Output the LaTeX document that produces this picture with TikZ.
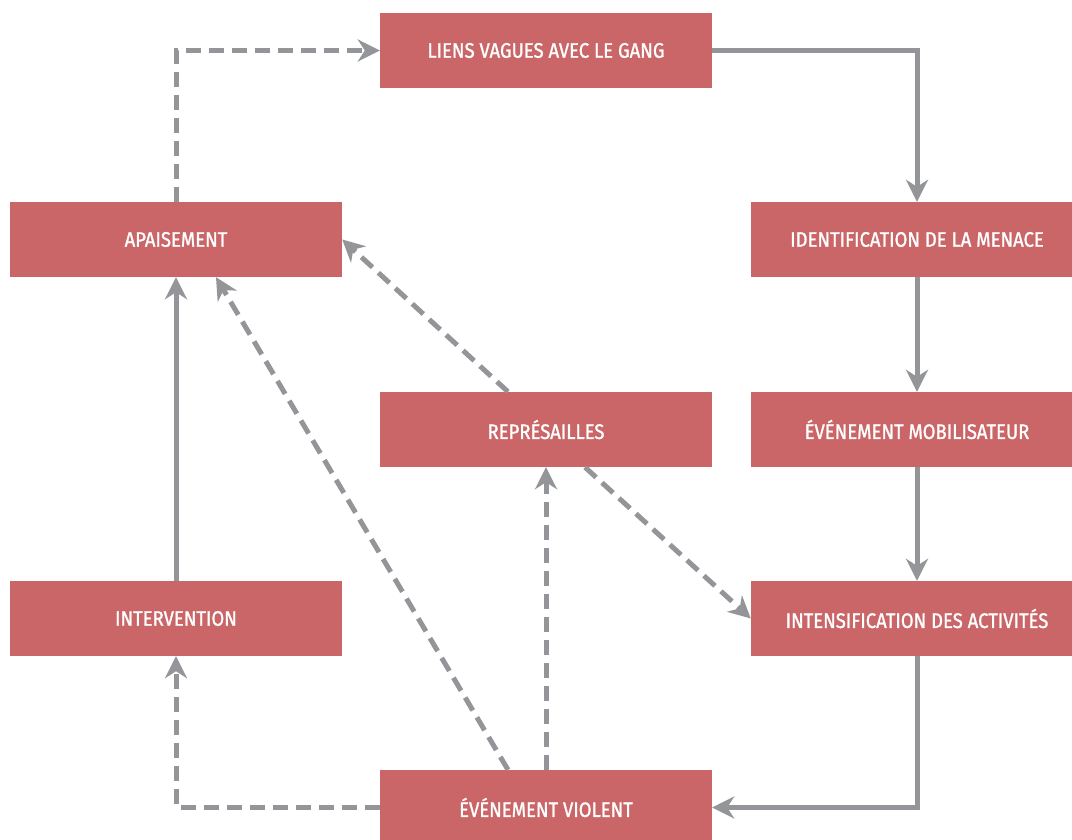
\documentclass[tikz,border=0pt]{standalone}
\usepackage{fontspec}
\newfontfamily\condfont[FakeStretch=0.88, FakeBold=1.2]{Fira Sans}
\usetikzlibrary{arrows.meta}
\definecolor{boxred}{HTML}{CA6668}
\definecolor{arrowgray}{HTML}{939598}
\tikzset{
  box/.style={fill=boxred, draw=none, minimum width=332pt, minimum height=75pt, inner sep=0pt, text=white, font=\condfont\fontsize{21}{24}\selectfont},
  conn/.style={draw=arrowgray, line width=5pt, -{Stealth[length=22pt,width=22pt,inset=7pt]}},
  solidc/.style={conn},
  dashc/.style={conn, dash pattern=on 15pt off 8pt},
}
\begin{document}
\begin{tikzpicture}[x=1pt,y=-1pt]
\useasboundingbox (0,0) rectangle (1072,840);
\node[box] (liens) at (546,50.5) {LIENS VAGUES AVEC LE GANG};
\node[box] (apais) at (176,239.5) {APAISEMENT};
\node[box] (ident) at (917,239.5) {IDENTIFICATION DE LA MENACE};
\node[box] (repr) at (546,429.5) {REPRÉSAILLES};
\node[box] (mobil) at (917,429.5) {ÉVÉNEMENT MOBILISATEUR};
\node[box] (interv) at (176,618.5) {INTERVENTION};
\node[box] (intens) at (917,618.5) {INTENSIFICATION DES ACTIVITÉS};
\node[box] (violent) at (546,807.5) {ÉVÉNEMENT VIOLENT};
\draw[solidc] (liens.east) -| (ident.north);
\draw[solidc] (ident.south) -- (mobil.north);
\draw[solidc] (mobil.south) -- (intens.north);
\draw[solidc] (intens.south) |- (violent.east);
\draw[dashc] (violent.west) -| (interv.south);
\draw[solidc] (interv.north) -- (apais.south);
\draw[dashc] (apais.north) |- (liens.west);
\draw[dashc] ([xshift=-38pt]violent.north) -- ([xshift=40pt]apais.south);
\draw[dashc] (violent.north) -- (repr.south);
\draw[dashc] ([xshift=-38pt]repr.north) -- (apais.east);
\draw[dashc] ([xshift=39pt]repr.south) -- (intens.west);
\end{tikzpicture}
\end{document}
